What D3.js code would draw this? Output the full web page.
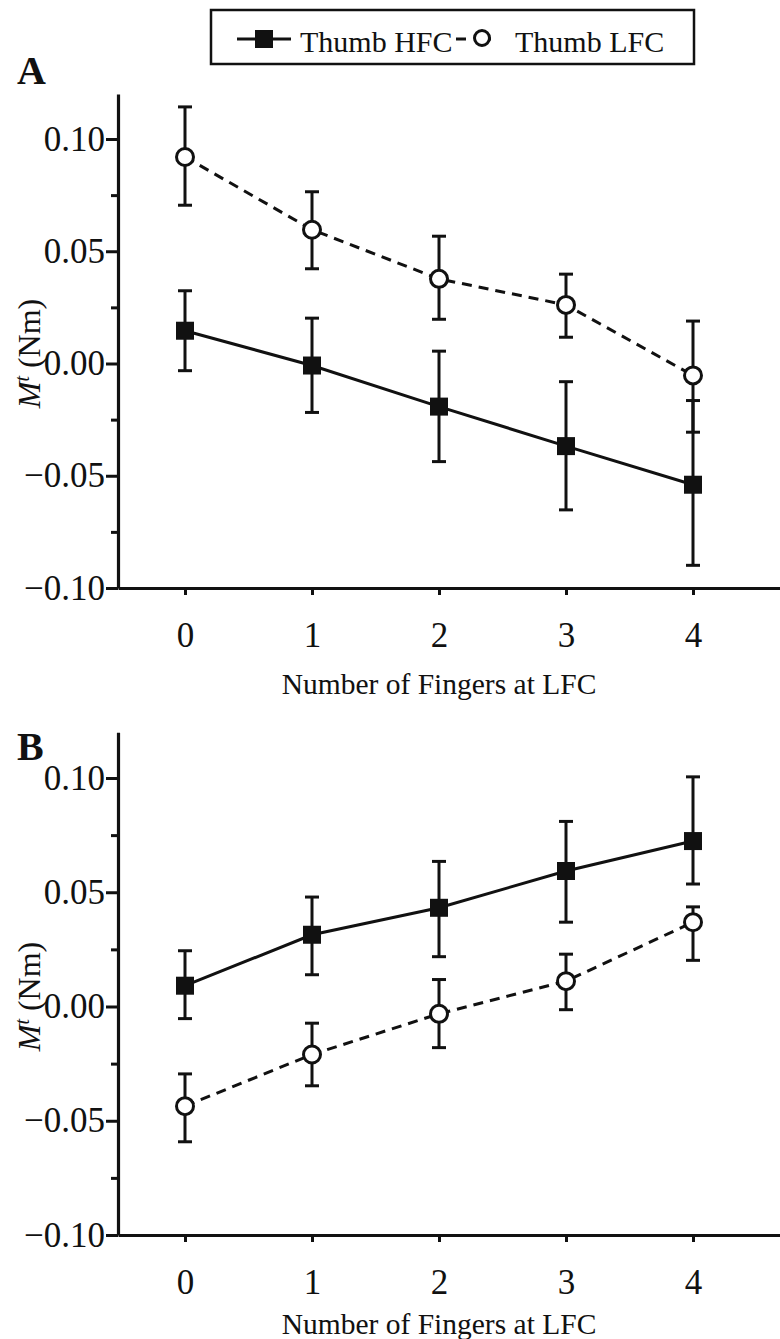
<!DOCTYPE html>
<html><head><meta charset="utf-8">
<script src="https://cdn.jsdelivr.net/npm/d3@7"></script>
<style>body{margin:0;background:#fff}svg{display:block}svg text{font-family:"Liberation Serif","Times New Roman",serif}</style>
</head><body>
<script>
const fingers = [0, 1, 2, 3, 4];
const yTicks = [-0.10, -0.05, 0.00, 0.05, 0.10];
const yMinor = [-0.075, -0.025, 0.025, 0.075];
// Panel A
const aHFC = [0.0146, -0.0009, -0.0192, -0.0368, -0.054];
const aHFCup = [0.0324, 0.0202, 0.0055, -0.0081, -0.0165];
const aHFClo = [-0.0032, -0.0218, -0.0437, -0.0652, -0.0899];
const aLFC = [0.092, 0.0596, 0.0377, 0.0261, -0.0053];
const aLFCup = [0.1143, 0.0765, 0.0567, 0.0398, 0.0189];
const aLFClo = [0.0705, 0.0422, 0.0197, 0.0117, -0.0306];
// Panel B
const bHFC = [0.0091, 0.0314, 0.0432, 0.0593, 0.0724];
const bHFCup = [0.0244, 0.0479, 0.0635, 0.0810, 0.1005];
const bHFClo = [-0.0053, 0.0139, 0.0218, 0.0369, 0.0536];
const bLFC = [-0.0436, -0.021, -0.0032, 0.0111, 0.0369];
const bLFCup = [-0.0295, -0.0073, 0.0118, 0.0229, 0.0436];
const bLFClo = [-0.0592, -0.0347, -0.018, -0.0014, 0.0202];
const legendLabels = ["Thumb HFC", "Thumb LFC"];
const xTitle = "Number of Fingers at LFC";

const W = 780, H = 1339;
const svg = d3.select("body").append("svg").attr("width", W).attr("height", H);

function panel(letter, letterY, y10, yn10, titleY, hfc, hfcUp, hfcLo, lfc, lfcUp, lfcLo) {
  const axX = 118, xRight = 780;
  const x0 = 185, step = 127;
  const x = d3.scaleLinear().domain([(axX - x0) / step, (xRight - x0) / step]).range([axX, xRight]);
  const unit = (yn10 - y10) / 0.2;
  const yTopPx = y10 - 0.02 * unit;
  const y = d3.scaleLinear().domain([-0.10, 0.12]).range([yn10, yTopPx]);
  const g = svg.append("g");

  const ya = g.append("g").attr("transform", `translate(${axX},0)`)
    .call(d3.axisLeft(y).tickValues(yTicks).tickSize(12).tickSizeOuter(0).tickPadding(1)
      .tickFormat(d3.format(".2f")));
  const ym = g.append("g").attr("transform", `translate(${axX},0)`)
    .call(d3.axisLeft(y).tickValues(yMinor).tickSize(7).tickSizeOuter(0).tickFormat(""));
  ym.select(".domain").remove();
  const xa = g.append("g").attr("transform", `translate(0,${yn10})`)
    .call(d3.axisBottom(x).tickValues(fingers).tickSize(7).tickSizeOuter(0).tickPadding(27)
      .tickFormat(d3.format("d")));
  [ya, ym, xa].forEach(a => {
    a.attr("font-family", null);
    a.selectAll("path,line").attr("stroke", "#111").attr("stroke-width", 3);
    a.selectAll("text").attr("font-size", 35).attr("fill", "#111");
  });
  xa.select(".domain").attr("stroke-width", 3.2);
  ya.select(".domain").attr("stroke-width", 3.2);

  g.append("text").attr("x", x(2)).attr("y", titleY).attr("text-anchor", "middle")
    .attr("font-size", 29.5).attr("fill", "#111").text(xTitle);
  const yt = g.append("text").attr("transform", `translate(40,${y(0.0) - 10}) rotate(-90)`)
    .attr("text-anchor", "middle").attr("font-size", 32).attr("fill", "#111");
  yt.append("tspan").attr("font-style", "italic").text("M");
  yt.append("tspan").attr("font-style", "italic").attr("font-size", 20).attr("dy", -11).text("t");
  yt.append("tspan").attr("dy", 11).text(" (Nm)");
  g.append("text").attr("x", 17).attr("y", letterY).attr("font-size", 40)
    .attr("font-weight", "bold").attr("fill", "#111").text(letter);

  const line = d3.line().x((d, i) => x(fingers[i])).y(d => y(d));
  g.append("path").attr("d", line(hfc)).attr("fill", "none").attr("stroke", "#111").attr("stroke-width", 3);
  g.append("path").attr("d", line(lfc)).attr("fill", "none").attr("stroke", "#111").attr("stroke-width", 3)
    .attr("stroke-dasharray", "10,7");

  function errs(up, lo) {
    fingers.forEach((f, i) => {
      const cx = x(f);
      g.append("line").attr("x1", cx).attr("x2", cx).attr("y1", y(up[i])).attr("y2", y(lo[i]))
        .attr("stroke", "#111").attr("stroke-width", 3);
      [up[i], lo[i]].forEach(v => g.append("line").attr("x1", cx - 7).attr("x2", cx + 7)
        .attr("y1", y(v)).attr("y2", y(v)).attr("stroke", "#111").attr("stroke-width", 3));
    });
  }
  errs(hfcUp, hfcLo);
  errs(lfcUp, lfcLo);
  g.selectAll(null).data(hfc).enter().append("rect")
    .attr("x", (d, i) => x(fingers[i]) - 9).attr("y", d => y(d) - 9)
    .attr("width", 18).attr("height", 18).attr("fill", "#111");
  g.selectAll(null).data(lfc).enter().append("circle")
    .attr("cx", (d, i) => x(fingers[i])).attr("cy", d => y(d)).attr("r", 8.5)
    .attr("fill", "#fff").attr("stroke", "#111").attr("stroke-width", 3);
}

panel("A", 84, 139, 588, 694, aHFC, aHFCup, aHFClo, aLFC, aLFCup, aLFClo);
panel("B", 760, 778, 1235, 1334, bHFC, bHFCup, bHFClo, bLFC, bLFCup, bLFClo);

const lg = svg.append("g");
lg.append("rect").attr("x", 211).attr("y", 10).attr("width", 483).attr("height", 54)
  .attr("fill", "#fff").attr("stroke", "#111").attr("stroke-width", 2.5);
lg.append("line").attr("x1", 237).attr("x2", 291).attr("y1", 39).attr("y2", 39).attr("stroke", "#111").attr("stroke-width", 3);
lg.append("rect").attr("x", 255).attr("y", 30).attr("width", 18).attr("height", 18).attr("fill", "#111");
lg.append("text").attr("x", 300).attr("y", 52).attr("font-size", 30).attr("fill", "#111").text(legendLabels[0]);
lg.append("line").attr("x1", 456).attr("x2", 503).attr("y1", 39).attr("y2", 39).attr("stroke", "#111").attr("stroke-width", 3)
  .attr("stroke-dasharray", "10,15");
lg.append("circle").attr("cx", 482).attr("cy", 38).attr("r", 7.5).attr("fill", "#fff").attr("stroke", "#111").attr("stroke-width", 3);
lg.append("text").attr("x", 515).attr("y", 52).attr("font-size", 30).attr("fill", "#111").text(legendLabels[1]);
</script>
</body></html>
